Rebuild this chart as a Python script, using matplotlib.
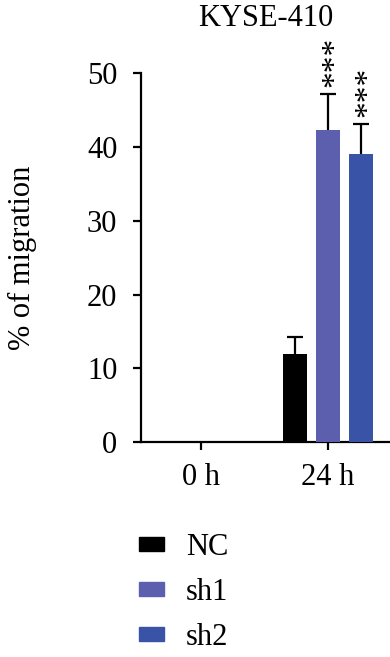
import numpy as np
import matplotlib
matplotlib.use("Agg")
import matplotlib.pyplot as plt
from matplotlib.patches import Patch

plt.rcParams["font.family"] = ["Liberation Serif", "DejaVu Serif"]

# data
times = ["0 h", "24 h"]
groups = ["NC", "sh1", "sh2"]
means_24h = [11.9, 42.3, 39.0]
errs_24h = [2.3, 4.9, 4.1]
stars = ["", "***", "***"]
colors = ["#000000", "#5b5fae", "#3953a6"]

FS = 22

fig = plt.figure(figsize=(3.9, 6.57), dpi=100)
ax = fig.add_axes([0.3615, 0.327, 0.6385, 0.5616])

width = 0.19
offsets = [-0.26, 0.0, 0.26]
for i, g in enumerate(groups):
    x = 1 + offsets[i]
    ax.bar(x, means_24h[i], width=width, color=colors[i], zorder=3)
    # lower half of the error bar is hidden behind the bar
    ax.errorbar(x, means_24h[i], yerr=errs_24h[i], fmt="none",
                ecolor="black", elinewidth=1.6, capsize=5.5, capthick=1.6,
                clip_on=False, zorder=2)
    if stars[i]:
        top = means_24h[i] + errs_24h[i]
        ax.annotate(stars[i], xy=(x, top), xytext=(5.5, 5),
                    textcoords="offset points", rotation=90,
                    ha="center", va="bottom", fontsize=24, annotation_clip=False)

ax.set_xlim(-0.47, 1.49)
ax.set_ylim(0, 50)
ax.set_xticks([0, 1])
ax.set_xticklabels(times)
ax.set_yticks([0, 10, 20, 30, 40, 50])
ax.spines["top"].set_visible(False)
ax.spines["right"].set_visible(False)
ax.spines["left"].set_linewidth(1.6)
ax.spines["bottom"].set_linewidth(1.6)
ax.tick_params(axis="both", width=1.6, length=6, labelsize=FS)
ax.tick_params(axis="y", pad=11)
ax.tick_params(axis="x", pad=9)
ax.set_ylabel("% of migration", fontsize=FS, labelpad=36)
ax.set_title("KYSE-410", fontsize=FS, pad=34)

handles = [Patch(color=c, label=g) for c, g in zip(colors, groups)]
fig.legend(handles=handles, loc="upper left", bbox_to_anchor=(0.356, 0.189),
           frameon=False, fontsize=FS, handlelength=0.82, handleheight=0.33,
           labelspacing=0.53, handletextpad=0.72, borderpad=0, borderaxespad=0)

fig.savefig("out.png", dpi=100)
